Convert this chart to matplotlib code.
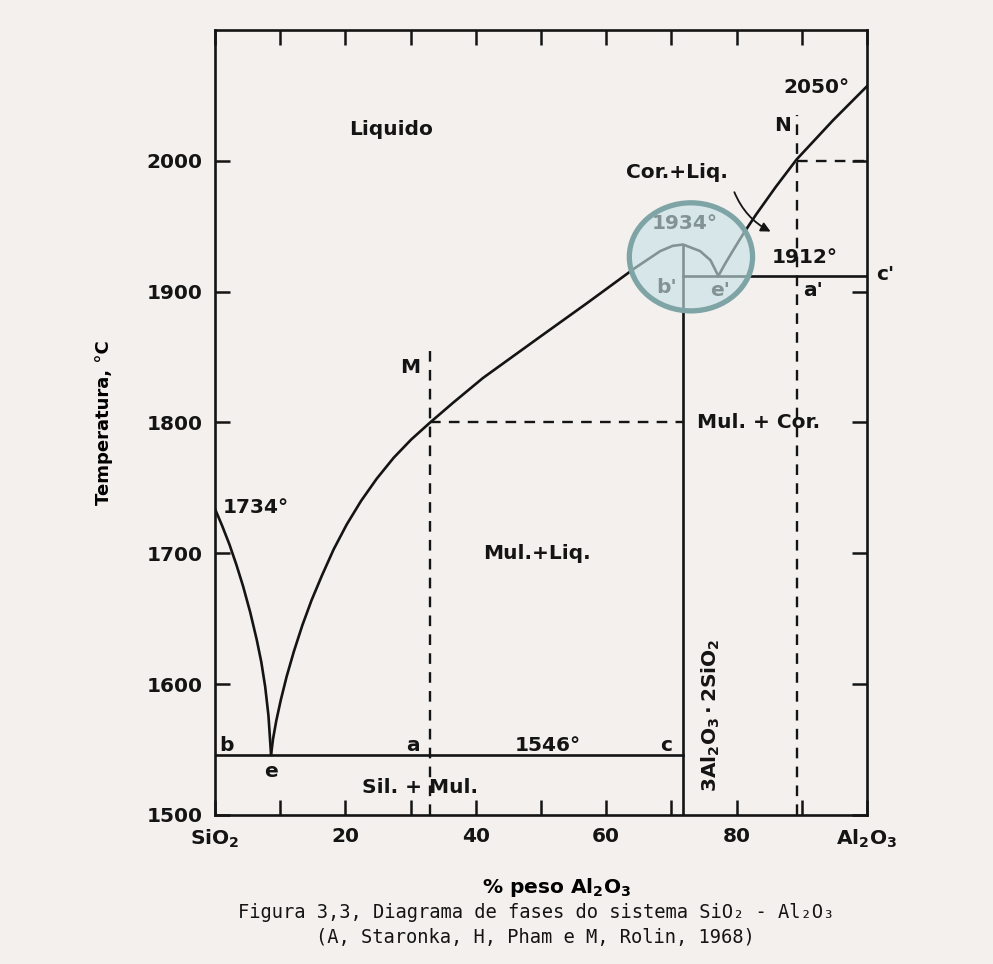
import matplotlib
matplotlib.use("Agg")
import matplotlib.pyplot as plt
from matplotlib.patches import Ellipse

# liquidus curves (wt% Al2O3, deg C)
silica_liq_x = [0, 1.1, 2.2, 3.3, 4.3, 5.4, 6.4, 7.1, 7.7, 8.2, 8.6]
silica_liq_t = [1734, 1721, 1707, 1691, 1675, 1655, 1634, 1617, 1598, 1576, 1546]

mullite_liq_x = [8.6, 8.9, 9.4, 10.1, 11.0, 12.1, 13.4, 14.8, 16.4, 18.2, 20.2, 22.4,
                 24.8, 27.4, 30.1, 33.0, 36.5, 41.1, 50.0, 57.0, 64.4, 68.3, 70.2,
                 71.8, 74.4, 76.0, 77.2]
mullite_liq_t = [1546, 1558, 1572, 1588, 1606, 1625, 1645, 1664, 1683, 1703, 1722, 1740,
                 1757, 1773, 1787, 1800, 1815, 1834, 1866, 1891, 1918, 1931, 1935,
                 1936, 1931, 1924, 1912]

corundum_liq_x = [77.2, 78.2, 79.4, 81.0, 83.0, 86.0, 89.2, 94.8, 100]
corundum_liq_t = [1912, 1921, 1931, 1944, 1959, 1980, 2001, 2031, 2057]

eutectic_t = 1546
eutectic2_t = 1912
mullite_x = 71.8
mullite_top = 1936
a_x, a_top = 33.0, 1857
n_x, n_top = 89.2, 2035

yticks = [1500, 1600, 1700, 1800, 1900, 2000]
xticks = [0, 10, 20, 30, 40, 50, 60, 70, 80, 90, 100]
xticklabels = ["SiO$_2$", "", "20", "", "40", "", "60", "", "80", "", "Al$_2$O$_3$"]

plt.rcParams['mathtext.fontset'] = 'dejavusans'
plt.rcParams['mathtext.default'] = 'bf'

bg = '#f3f0ee'
fig = plt.figure(figsize=(9.93, 9.64), dpi=100, facecolor=bg)
ax = fig.add_axes([0.2165, 0.1546, 0.6566, 0.8143])
ax.set_facecolor(bg)
ax.set_xlim(0, 100)
ax.set_ylim(1500, 2100)

lw = 1.9
k = '#141414'
ax.plot(silica_liq_x, silica_liq_t, color=k, lw=lw)
ax.plot(mullite_liq_x, mullite_liq_t, color=k, lw=lw)
ax.plot(corundum_liq_x, corundum_liq_t, color=k, lw=lw)
ax.plot([0, mullite_x], [eutectic_t, eutectic_t], color=k, lw=lw)
ax.plot([mullite_x, 100], [eutectic2_t, eutectic2_t], color=k, lw=lw)
ax.plot([mullite_x, mullite_x], [1500, mullite_top], color=k, lw=lw)

dash = dict(color=k, lw=1.7, dashes=(4.5, 3.5))
ax.plot([a_x, a_x], [1500, a_top], **dash)
ax.plot([a_x, mullite_x], [1800, 1800], **dash)
ax.plot([n_x, n_x], [1500, n_top], **dash)
ax.plot([n_x, 100], [2000, 2000], **dash)

for s in ax.spines.values():
    s.set_linewidth(1.9)
    s.set_color(k)

ax.set_yticks(yticks)
ax.set_yticklabels([str(t) for t in yticks])
ax.set_xticks(xticks)
ax.set_xticklabels(xticklabels)
ax.tick_params(direction='in', length=11, width=1.8, colors=k, labelsize=14.5,
               top=True, right=True, pad=9)
for lab in ax.get_xticklabels() + ax.get_yticklabels():
    lab.set_fontweight('bold')
ax.set_ylabel("Temperatura, °C", fontsize=13, fontweight='bold', labelpad=24)
ax.set_xlabel("% peso Al$_2$O$_3$", fontsize=14.5, fontweight='bold')
ax.xaxis.set_label_coords(0.524, -0.078)

t = dict(fontsize=14.5, fontweight='bold', color=k, ha='center', va='center')
ax.text(27, 2024, "Liquido", **t)
ax.text(92.3, 2056, "2050°", **t)
ax.text(87, 2027, "N", **t)
ax.text(70.9, 1991, "Cor.+Liq.", **t)
ax.text(90.5, 1926, "1912°", **t)
ax.text(102.8, 1913, "c'", **t, clip_on=False)
ax.text(91.7, 1901, "a'", **t)
ax.text(83.3, 1800, "Mul. + Cor.", **t)
ax.text(30.0, 1842, "M", **t)
ax.text(49.4, 1700, "Mul.+Liq.", **t)
ax.text(6.2, 1735, "1734°", **t)
ax.text(1.7, 1553, "b", **t)
ax.text(30.4, 1553, "a", **t)
ax.text(8.6, 1533, "e", **t)
ax.text(31.5, 1521, "Sil. + Mul.", **t)
ax.text(51.0, 1553, "1546°", **t)
ax.text(69.2, 1553, "c", **t)
ax.text(76.0, 1576, "3Al$_2$O$_3\\cdot$2SiO$_2$", rotation=90, **t)

ax.annotate("", xy=(85.6, 1945), xytext=(79.5, 1978),
            arrowprops=dict(arrowstyle='-|>', color=k, lw=1.3,
                            connectionstyle='arc3,rad=0.2', mutation_scale=14))

# highlighted detail around the mullite melting point
ax.text(72.1, 1952, "1934°", **t)
ax.text(69.3, 1903, "b'", **t)
ax.text(77.5, 1901, "e'", **t)
ax.add_patch(Ellipse((73.0, 1926.6), 18.9, 82.6, facecolor=(0.78, 0.89, 0.90),
                     alpha=0.62, edgecolor='none', zorder=5))
ax.add_patch(Ellipse((73.0, 1926.6), 18.9, 82.6, facecolor='none',
                     edgecolor='#7fa4a6', lw=3.8, zorder=6))

cap = dict(fontsize=13.5, family='DejaVu Sans Mono', color=k, ha='center', va='center')
fig.text(536 / 993, 1 - 913 / 964, "Figura 3,3, Diagrama de fases do sistema SiO₂ - Al₂O₃", **cap)
fig.text(535 / 993, 1 - 937 / 964, "(A, Staronka, H, Pham e M, Rolin, 1968)", **cap)

fig.savefig("out.png", dpi=100, facecolor=bg)
